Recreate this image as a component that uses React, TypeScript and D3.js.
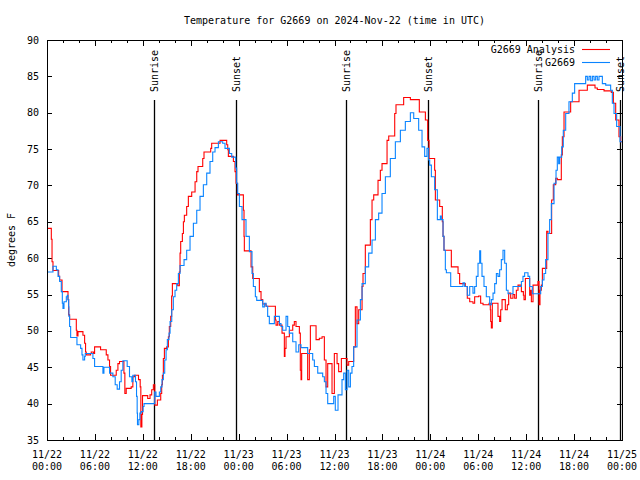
import React from "react";
import * as d3 from "d3";

const analysisHours = [0,0.54,0.63,0.75,1.46,1.58,1.88,2.63,2.71,2.83,3.67,3.75,3.88,4.5,4.71,4.83,4.92,5.46,5.54,5.83,5.96,6.71,7.42,7.63,7.83,7.96,8.67,8.88,9.08,9.63,9.75,9.92,10.54,10.75,10.96,11.46,11.67,11.75,11.88,11.96,12.61,12.9,13.11,13.32,13.5,13.82,14.24,14.36,14.45,14.57,14.7,14.99,15.2,15.32,15.49,15.61,15.7,16.37,16.57,16.66,16.74,16.95,17.08,17.2,17.49,17.7,18.12,18.54,18.75,18.91,19.5,19.66,20.5,20.62,21.67,22.5,22.63,22.71,23.34,23.54,23.67,23.84,24.59,24.67,24.71,25.55,25.76,26.59,26.8,27.01,27.43,28.6,28.68,28.89,29.1,29.43,29.72,29.8,29.93,30.35,30.77,30.97,31.18,31.6,31.72,31.81,31.89,32.64,32.85,32.98,33.69,34.1,34.44,34.73,34.94,35.15,35.69,35.98,36.32,36.52,36.86,37.57,37.78,38.4,38.61,38.82,39.03,39.45,39.57,39.86,40.49,40.7,40.91,41.45,41.74,41.95,42.58,42.79,43.54,43.7,44.66,45.5,46.62,47.38,47.67,47.84,48.54,48.63,49.17,49.5,49.59,49.71,50.63,51.47,51.67,52.38,52.63,52.93,53.34,53.55,54.05,54.3,54.6,55.35,55.51,55.56,55.64,55.76,56.47,56.68,56.81,56.98,57.39,57.64,57.81,58.06,58.35,58.56,58.77,58.98,59.4,59.65,59.73,59.9,60.44,60.56,60.65,60.86,61.48,61.61,61.73,61.9,62.03,62.57,62.73,63.19,63.4,63.7,63.9,64.4,64.53,64.74,65.57,66.62,67.66,68.62,68.91,69.75,70.66,70.92,71.21,71.62,71.83,72];
const analysisTemps = [64.1,62.6,59.5,58.3,57.5,57.0,55.4,54.3,52.2,51.6,50.1,49.3,49.9,49.4,48.3,47.1,46.7,46.9,47.1,46.9,47.8,47.4,46.7,46.0,45.1,43.9,44.6,45.5,45.8,44.2,41.4,42.1,42.3,43.7,43.9,43.3,42.3,36.8,38.5,41.1,40.7,41.2,41.9,42.6,39.8,40.5,41.4,42.6,43.9,46.2,47.6,47.8,49.2,50.6,52.0,54.8,56.5,56.2,58.1,60.7,62.3,63.4,65.0,65.9,67.1,68.5,69.1,70.5,71.9,72.6,73.7,74.6,75.1,75.8,76.2,75.6,74.9,74.0,73.3,71.9,70.3,68.7,66.6,63.0,61.0,58.8,57.2,55.4,54.3,53.7,53.4,51.5,50.8,51.3,50.8,49.7,46.5,47.6,49.2,50.1,50.8,51.3,50.6,49.7,44.6,43.3,46.9,43.3,47.4,50.7,48.8,49.0,49.2,46.0,42.3,45.5,41.4,46.9,45.5,44.4,46.2,45.3,45.8,47.8,53.3,51.0,52.9,56.1,57.9,61.8,65.3,68.0,68.7,70.7,72.1,73.0,76.2,76.8,79.9,81.1,82.1,81.8,80.1,79.0,76.2,73.7,72.1,68.0,67.1,65.0,63.0,61.1,58.8,57.9,56.5,56.1,54.5,54.0,53.8,54.7,54.8,53.8,53.6,53.8,52.9,51.3,50.4,53.8,52.0,51.3,52.9,54.3,52.9,53.6,55.2,54.5,55.0,54.5,55.6,56.3,55.4,54.9,54.3,57.2,54.9,55.6,54.0,56.3,56.8,53.6,55.6,56.3,58.6,63.7,63.4,68.0,70.1,71.0,70.8,74.2,76.7,80.1,81.5,83.1,83.8,83.4,83.2,83.0,82.8,81.3,79.0,76.7,76.0,76.0];

const obsHours = [0,0.75,1.17,1.38,1.58,1.79,1.92,2.0,2.13,2.42,2.54,2.63,2.71,2.75,2.83,2.96,3.75,4.21,4.38,4.5,4.71,4.79,5.75,5.96,7.0,7.13,7.83,8.25,8.54,8.79,9.08,9.29,9.5,10.04,10.33,10.63,10.75,11.08,11.21,11.29,11.33,11.5,11.63,11.79,12.04,12.15,13.49,13.65,14.07,14.24,14.4,14.57,14.74,14.91,15.07,15.28,15.41,15.62,15.82,16.03,16.24,16.45,16.66,17.16,17.49,17.91,18.33,18.75,19.16,19.58,20.0,20.41,20.75,21.04,21.46,22.0,22.29,22.84,23.13,23.63,23.75,23.88,24.09,24.42,24.92,25.34,25.67,25.84,26.09,26.26,27.01,27.22,27.43,27.63,27.84,28.47,29.1,29.3,29.51,29.93,30.14,30.35,30.77,31.18,31.52,31.81,32.64,33.27,33.48,33.9,34.52,34.73,34.94,35.15,35.9,36.1,36.44,36.94,37.15,37.36,37.57,37.78,37.99,38.19,38.4,38.82,39.24,39.45,39.86,40.28,40.7,41.12,41.53,41.95,42.37,42.99,43.62,44.25,44.87,45.5,45.92,46.54,46.96,47.29,47.58,47.79,47.92,48.13,48.54,48.88,49.25,49.38,49.59,49.71,49.88,50.01,50.55,52.09,52.3,52.63,52.93,53.34,53.55,53.76,53.97,54.18,54.3,54.47,54.72,55.01,55.43,55.64,55.85,56.06,56.27,56.47,56.68,56.89,57.1,57.31,57.52,57.73,58.35,59.4,59.6,59.81,60.23,60.44,60.77,61.82,62.03,62.23,62.44,62.73,62.94,63.15,63.49,63.74,63.9,64.07,64.2,64.45,64.65,64.95,65.36,65.78,66.07,67.45,67.66,67.87,68.08,68.29,68.5,68.7,68.91,69.12,69.54,69.96,70.58,70.79,71.0,71.33,71.75,72];
const obsTemps = [58.1,58.9,58.4,57.5,56.8,55.4,53.8,53.1,54.0,54.7,54.9,54.3,53.3,52.0,50.6,49.1,48.1,47.6,46.7,46.0,46.5,46.9,46.2,45.1,44.2,45.0,44.2,43.7,42.6,42.0,43.0,44.6,45.9,45.1,43.7,43.0,43.9,43.0,41.0,38.7,37.1,37.8,38.7,38.9,39.6,40.0,41.6,41.0,41.6,42.3,43.3,44.2,46.0,47.4,48.8,49.7,51.3,52.9,54.7,55.6,56.5,57.9,59.0,59.8,61.1,63.0,64.8,66.6,68.5,70.1,71.7,73.3,74.6,75.2,76.0,75.8,75.1,74.4,73.9,72.4,70.3,68.9,67.1,65.3,63.0,60.9,57.9,56.1,54.7,54.2,53.3,53.8,53.4,52.0,51.0,52.0,51.0,50.6,50.1,52.0,50.6,49.7,48.5,47.1,48.1,47.7,46.9,46.0,45.1,44.2,43.7,43.0,41.4,40.0,41.0,39.1,41.2,43.3,44.2,41.9,44.6,42.3,44.2,45.1,47.8,51.5,54.3,56.5,58.8,60.7,62.5,65.3,66.2,68.9,71.2,73.7,76.0,77.6,78.8,80.0,79.2,77.6,75.3,74.0,75.1,73.5,72.8,71.2,69.4,65.3,65.8,65.3,63.0,61.1,58.4,58.0,56.1,56.6,56.1,54.9,56.1,55.2,56.1,57.5,59.3,61.0,59.3,57.5,56.1,54.7,53.6,54.3,55.2,56.5,57.9,57.5,58.4,59.8,61.1,59.3,55.6,55.1,56.1,56.8,57.5,58.0,57.5,56.1,55.1,56.1,57.0,57.9,59.8,63.4,65.3,67.5,70.3,72.1,73.9,73.0,73.9,75.3,77.6,79.9,81.5,82.7,84.0,85.0,84.5,85.0,84.4,85.0,84.5,85.0,84.5,85.0,84.0,83.8,83.1,81.3,79.9,78.1,76.0,76.0];

const xTickHours = [0, 6, 12, 18, 24, 30, 36, 42, 48, 54, 60, 66, 72];
const xTickDates = ["11/22","11/22","11/22","11/22","11/23","11/23","11/23","11/23","11/24","11/24","11/24","11/24","11/25"];
const xTickTimes = ["00:00","06:00","12:00","18:00","00:00","06:00","12:00","18:00","00:00","06:00","12:00","18:00","00:00"];
const yTicks = [35, 40, 45, 50, 55, 60, 65, 70, 75, 80, 85, 90];

const sunHours = [13.44, 23.7, 37.48, 47.75, 61.52, 71.69];
const sunLabels = ["Sunrise", "Sunset", "Sunrise", "Sunset", "Sunrise", "Sunset"];

const seriesNames = ["G2669 Analysis", "G2669"];
const seriesColors = ["#ff0000", "#0a84ff"];

const W = 640, H = 480;
const M = { left: 47, right: 622, top: 40, bottom: 440 };
const FONT = "'DejaVu Sans Mono', monospace";

export default function App() {
  const x = d3.scaleLinear().domain([0, 72]).range([M.left, M.right]);
  const y = d3.scaleLinear().domain([35, 90]).range([M.bottom, M.top]);
  const line = d3
    .line<[number, number]>()
    .x((d) => x(d[0]))
    .y((d) => y(d[1]))
    .curve(d3.curveStepAfter);
  const red: [number, number][] = analysisHours.map((h, i) => [h, analysisTemps[i]]);
  const blue: [number, number][] = obsHours.map((h, i) => [h, obsTemps[i]]);
  const minorHours = d3.range(0, 73, 2).filter((h) => h % 6 !== 0);

  return (
    <svg
      width={W}
      height={H}
      style={{ position: "absolute", left: 0, top: 0, background: "#fff" }}
      fontFamily={FONT}
      fontSize={10}
    >
      <rect x={0} y={0} width={W} height={H} fill="#fff" />
      <text x={(M.left + M.right) / 2} y={24} textAnchor="middle">
        Temperature for G2669 on 2024-Nov-22 (time in UTC)
      </text>
      <text transform={`translate(15,${(M.top + M.bottom) / 2}) rotate(-90)`} textAnchor="middle">
        degrees F
      </text>
      <defs>
        <clipPath id="plotclip">
          <rect x={M.left} y={M.top} width={M.right - M.left} height={M.bottom - M.top} />
        </clipPath>
      </defs>
      {/* y ticks */}
      <g shapeRendering="crispEdges" stroke="#000">
        {yTicks.map((t) => (
          <g key={t}>
            <line x1={M.left} x2={M.left + 5} y1={Math.round(y(t)) + 0.5} y2={Math.round(y(t)) + 0.5} />
            <line x1={M.right - 5} x2={M.right} y1={Math.round(y(t)) + 0.5} y2={Math.round(y(t)) + 0.5} />
          </g>
        ))}
        {xTickHours.map((h) => (
          <g key={h}>
            <line x1={Math.round(x(h)) + 0.5} x2={Math.round(x(h)) + 0.5} y1={M.bottom} y2={M.bottom - 6} />
            <line x1={Math.round(x(h)) + 0.5} x2={Math.round(x(h)) + 0.5} y1={M.top} y2={M.top + 6} />
          </g>
        ))}
        {minorHours.map((h) => (
          <g key={"m" + h}>
            <line x1={Math.round(x(h)) + 0.5} x2={Math.round(x(h)) + 0.5} y1={M.bottom} y2={M.bottom - 3} />
            <line x1={Math.round(x(h)) + 0.5} x2={Math.round(x(h)) + 0.5} y1={M.top} y2={M.top + 3} />
          </g>
        ))}
      </g>
      {yTicks.map((t) => (
        <text key={t} x={39} y={y(t) + 3.5} textAnchor="end">
          {t}
        </text>
      ))}
      {xTickHours.map((h, i) => (
        <g key={h}>
          <text x={x(h)} y={458} textAnchor="middle">{xTickDates[i]}</text>
          <text x={x(h)} y={470} textAnchor="middle">{xTickTimes[i]}</text>
        </g>
      ))}
      {/* sun lines */}
      {sunHours.map((h, i) => (
        <g key={"s" + i}>
          <line
            x1={Math.round(x(h)) + 0.5}
            x2={Math.round(x(h)) + 0.5}
            y1={y(35) - 0.85 * (M.bottom - M.top)}
            y2={M.bottom}
            stroke="#000"
            strokeWidth={1.3}
          />
          <text transform={`translate(${x(h) + 4},${M.bottom - 0.87 * (M.bottom - M.top)}) rotate(-90)`}>
            {sunLabels[i]}
          </text>
        </g>
      ))}
      <g clipPath="url(#plotclip)" fill="none" strokeWidth={1.1}>
        <path d={line(red) || ""} stroke={seriesColors[0]} />
        <path d={line(blue) || ""} stroke={seriesColors[1]} />
      </g>
      {/* legend */}
      {seriesNames.map((n, i) => (
        <g key={n}>
          <text x={575} y={53 + i * 13} textAnchor="end">{n}</text>
          <line x1={582} x2={610} y1={49.5 + i * 13} y2={49.5 + i * 13} stroke={seriesColors[i]} strokeWidth={1.1} />
        </g>
      ))}
      <rect
        x={M.left + 0.5}
        y={M.top + 0.5}
        width={M.right - M.left}
        height={M.bottom - M.top}
        fill="none"
        stroke="#000"
        shapeRendering="crispEdges"
      />
    </svg>
  );
}
